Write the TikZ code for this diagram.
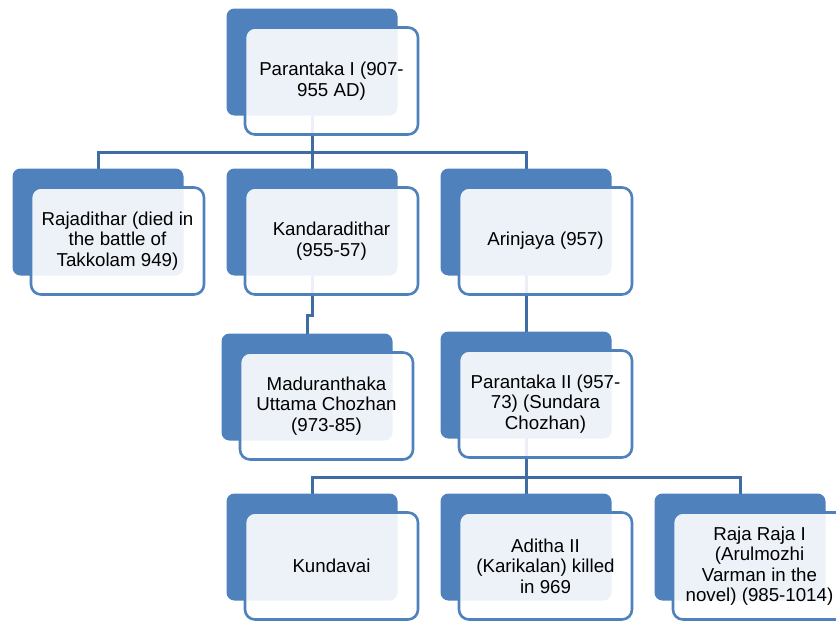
\documentclass[tikz,border=0pt]{standalone}
\usepackage{fontspec}
\setmainfont{Liberation Sans}
\usepackage{xcolor}
\usepackage{tikz}
\usetikzlibrary{positioning, backgrounds}
\definecolor{officeblue}{RGB}{79,129,189}
\definecolor{linkblue}{RGB}{64,108,164}
\tikzstyle{backbox} = [rectangle, rounded corners=8pt, minimum width=171pt, minimum height=107pt, inner sep=0pt, outer sep=0pt, fill=officeblue]
\tikzstyle{frontbox} = [rectangle, rounded corners=10pt, minimum width=173pt, minimum height=107pt, inner sep=2pt, draw=officeblue, line width=2.6pt, fill=white, fill opacity=0.9, text opacity=1, align=center, font=\fontsize{18.7}{20.5}\selectfont]
\tikzstyle{link} = [draw=linkblue, line width=3pt]

\begin{document}
\begin{tikzpicture}[x=1pt, y=-1pt]
    \useasboundingbox (0,0) rectangle (836,621);
    % Back boxes
    \node (pb) [backbox] at (312,62) {};
    \node (kb) [backbox, below=53pt of pb] {};
    \node (rb) [backbox, left=43pt of kb] {};
    \node (ab) [backbox, right=43pt of kb] {};
    \node (mb) [backbox, below=58pt of kb, xshift=-5pt] {};
    \node (p2b) [backbox, below=56pt of ab] {};
    \node (adb) [backbox, below=55pt of p2b] {};
    \node (kub) [backbox, left=43pt of adb] {};
    \node (rrb) [backbox, right=43pt of adb] {};

    % Front boxes with the names
    \node (pf) [frontbox] at ([shift={(19.5,19)}]pb.center) {Parantaka I (907-\\955 AD)};
    \node (rf) [frontbox] at ([shift={(19.5,19)}]rb.center) {Rajadithar (died in\\the battle of\\Takkolam 949)};
    \node (kf) [frontbox] at ([shift={(19.5,19)}]kb.center) {Kandaradithar\\(955-57)};
    \node (af) [frontbox] at ([shift={(19.5,19)}]ab.center) {Arinjaya (957)};
    \node (mf) [frontbox] at ([shift={(19.5,19)}]mb.center) {Maduranthaka\\Uttama Chozhan\\(973-85)};
    \node (p2f) [frontbox] at ([shift={(19.5,19)}]p2b.center) {Parantaka II (957-\\73) (Sundara\\Chozhan)};
    \node (kuf) [frontbox] at ([shift={(19.5,19)}]kub.center) {Kundavai};
    \node (adf) [frontbox] at ([shift={(19.5,19)}]adb.center) {Aditha II\\(Karikalan) killed\\in 969};
    \node (rrf) [frontbox] at ([shift={(19.5,19)}]rrb.center) {Raja Raja I\\(Arulmozhi\\Varman in the\\novel) (985-1014)};

    % Connectors
    \begin{scope}[on background layer]
        \draw [link] (pb.center) -- ++(0,90) -| (rb.center);
        \draw [link] (pb.center) -- ++(0,90) -| (ab.center);
        \draw [link] (pb.center) -- (kb.center);
        \draw [link] (kb.center) -- ++(0,93) -| (mb.center);
        \draw [link] (ab.center) -- (p2b.center);
        \draw [link] (p2b.center) -- ++(0,92) -| (kub.center);
        \draw [link] (p2b.center) -- ++(0,92) -| (rrb.center);
        \draw [link] (p2b.center) -- (adb.center);
    \end{scope}
\end{tikzpicture}
\end{document}
